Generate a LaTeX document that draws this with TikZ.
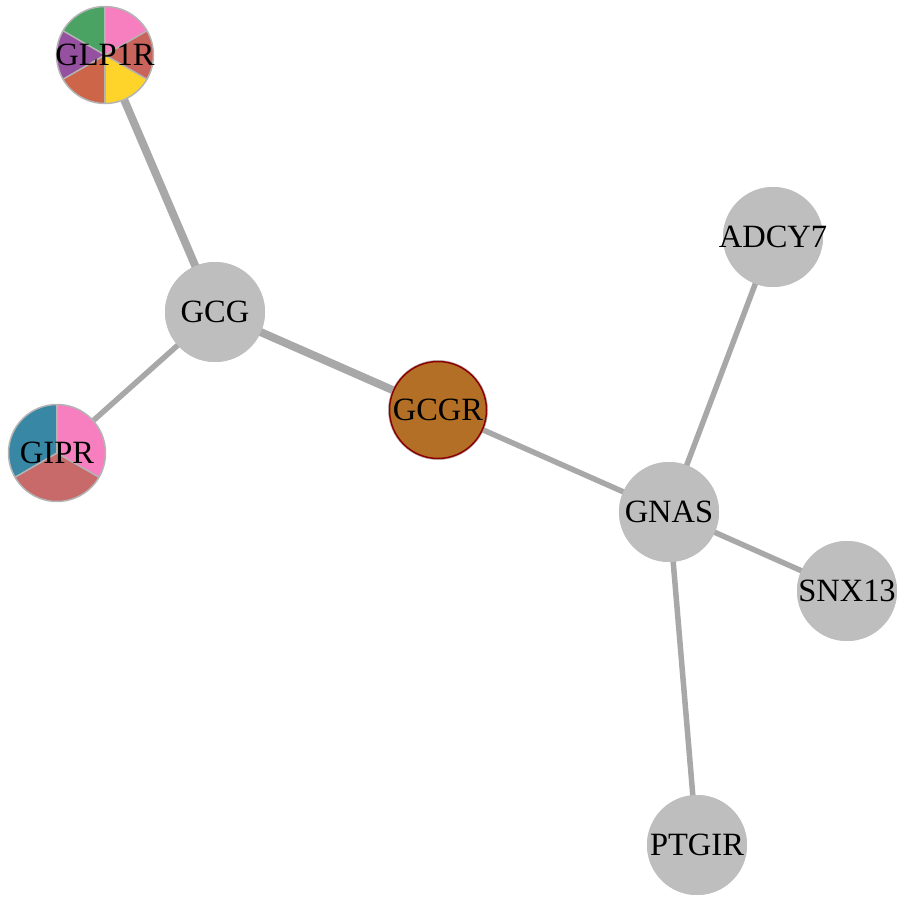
\documentclass[tikz,border=0pt]{standalone}
\usepackage{fontspec}
\setmainfont{Liberation Serif}
\begin{document}
\begin{tikzpicture}[x=1pt,y=-1pt,
  gene/.style={circle,minimum size=100pt,inner sep=0pt,fill=nodegrey},
  piegene/.style={circle,minimum size=98pt,inner sep=0pt},
  label/.style={font=\fontsize{32.5}{32.5}\selectfont},
  link/.style={draw=edgegrey,line width=5.5pt},
  strong/.style={draw=edgegrey,line width=8pt},
  slice/.style={draw=pieline,line width=1.5pt}]
\definecolor{nodegrey}{HTML}{BEBEBE}
\definecolor{edgegrey}{HTML}{A8A8A8}
\definecolor{pieline}{HTML}{B4B4B4}
\definecolor{gcgrfill}{HTML}{B36F25}
\definecolor{gcgrline}{HTML}{8B0000}
\definecolor{cgreen}{HTML}{4AA363}
\definecolor{cpink}{HTML}{F77FC0}
\definecolor{cred}{HTML}{C8645C}
\definecolor{cyellow}{HTML}{FFD42A}
\definecolor{corange}{HTML}{CD6549}
\definecolor{cpurple}{HTML}{9550A0}
\definecolor{cblue}{HTML}{3887A5}
\definecolor{cgipr}{HTML}{C8696A}
\useasboundingbox (0,0) rectangle (900,897);

% node placement
\coordinate (glp1rc) at (105,55);
\coordinate (giprc) at (57,453);
\node[gene] (gcg) at (215,312) {};
\node[gene] (gcgr) at (438,410) {};
\node[gene] (gnas) at (669,512) {};
\node[gene] (adcy7) at (773,237) {};
\node[gene] (snx13) at (847,591) {};
\node[gene] (ptgir) at (697,845) {};
\node[piegene] (glp1r) at (glp1rc) {};
\node[piegene] (gipr) at (giprc) {};

% interactions
\path[strong] (glp1r.center) -- (gcg.center);
\path[strong] (gcg.center) -- (gcgr.center);
\path[link] (gcg.center) -- (gipr.center);
\path[link] (gcgr.center) -- (gnas.center);
\path[link] (gnas.center) -- (adcy7.center);
\path[link] (gnas.center) -- (snx13.center);
\path[link] (gnas.center) -- (ptgir.center);

% node bodies above the links
\fill[nodegrey] (gcg) circle (50pt);
\fill[nodegrey] (gnas) circle (50pt);
\fill[nodegrey] (adcy7) circle (50pt);
\fill[nodegrey] (snx13) circle (50pt);
\fill[nodegrey] (ptgir) circle (50pt);
\filldraw[fill=gcgrfill,draw=gcgrline,line width=1.5pt] (gcgr) circle (48.5pt);

\begin{scope}[yscale=-1]
\def\r{48.5}
% GLP1R pie: six equal slices
\fill[cpink]   (glp1rc) -- ++(90:\r) arc[start angle=90,end angle=30,radius=\r] -- cycle;
\fill[cred]    (glp1rc) -- ++(30:\r) arc[start angle=30,end angle=-30,radius=\r] -- cycle;
\fill[cyellow] (glp1rc) -- ++(-30:\r) arc[start angle=-30,end angle=-90,radius=\r] -- cycle;
\fill[corange] (glp1rc) -- ++(-90:\r) arc[start angle=-90,end angle=-150,radius=\r] -- cycle;
\fill[cpurple] (glp1rc) -- ++(-150:\r) arc[start angle=-150,end angle=-210,radius=\r] -- cycle;
\fill[cgreen]  (glp1rc) -- ++(150:\r) arc[start angle=150,end angle=90,radius=\r] -- cycle;
\foreach \a in {90,30,-30,-90,-150,150}
  \draw[slice] (glp1rc) -- ++(\a:\r);
\draw[slice] (glp1rc) circle (\r);

% GIPR pie: three equal slices
\fill[cpink] (giprc) -- ++(90:\r) arc[start angle=90,end angle=-30,radius=\r] -- cycle;
\fill[cgipr] (giprc) -- ++(-30:\r) arc[start angle=-30,end angle=-150,radius=\r] -- cycle;
\fill[cblue] (giprc) -- ++(-150:\r) arc[start angle=-150,end angle=-270,radius=\r] -- cycle;
\foreach \a in {90,-30,-150}
  \draw[slice] (giprc) -- ++(\a:\r);
\draw[slice] (giprc) circle (\r);
\end{scope}

% labels
\node[label] at (gcg) {GCG};
\node[label] at (gcgr) {GCGR};
\node[label] at (gnas) {GNAS};
\node[label] at (adcy7) {ADCY7};
\node[label] at (snx13) {SNX13};
\node[label] at (ptgir) {PTGIR};
\node[label] at (glp1r) {GLP1R};
\node[label] at (gipr) {GIPR};
\end{tikzpicture}
\end{document}
